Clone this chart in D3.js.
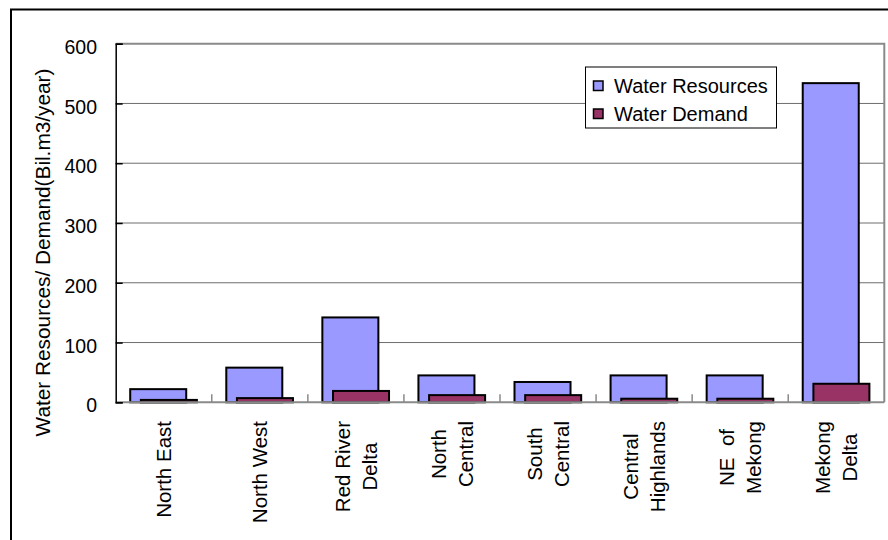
<!DOCTYPE html>
<html>
<head>
<meta charset="utf-8">
<script src="https://cdn.jsdelivr.net/npm/d3@7/dist/d3.min.js"></script>
<style>
  html, body { margin: 0; padding: 0; background: #ffffff; }
  svg { display: block; }
  text { font-family: "Liberation Sans", Arial, sans-serif; fill: #000; }
</style>
</head>
<body>
<svg id="chart" width="888" height="540"></svg>
<script>
// Regions (label lines) and their water balance in Bil.m3/year
const regions = [
  ["North East"],
  ["North West"],
  ["Red River", "Delta"],
  ["North", "Central"],
  ["South", "Central"],
  ["Central", "Highlands"],
  ["NE  of", "Mekong"],
  ["Mekong", "Delta"]
];
const waterResources = [22, 58, 142, 45, 34, 45, 45, 534];
const waterDemand    = [4, 7, 19, 12, 12, 6, 6, 31];
const yTicks = [0, 100, 200, 300, 400, 500, 600];
const seriesNames = ["Water Resources", "Water Demand"];
const seriesColors = ["#9999FF", "#993366"];

const svg = d3.select("#chart");

// outer chart frame (top and left edges visible)
svg.append("path")
  .attr("d", "M11,545 L11,9.5 L900,9.5")
  .attr("fill", "none").attr("stroke", "#000").attr("stroke-width", 2);

const plot = { left: 115.7, right: 884.3, top: 43.7, bottom: 402.3 };

const x = d3.scaleBand()
  .domain(d3.range(regions.length))
  .range([plot.left, plot.right])
  .paddingInner(0).paddingOuter(0);
const y = d3.scaleLinear().domain([0, 600]).range([plot.bottom, plot.top]);
const bw = x.bandwidth();
const barW = bw * 0.583;
const offRes = bw * 0.151;
const offDem = bw * 0.262;

// horizontal gridlines
svg.append("g")
  .selectAll("line")
  .data(yTicks.filter(d => d > 0 && d < 600))
  .join("line")
  .attr("x1", plot.left).attr("x2", plot.right)
  .attr("y1", d => y(d)).attr("y2", d => y(d))
  .attr("stroke", "#6e6e6e").attr("stroke-width", 1);

// plot area border (top and right)
svg.append("path")
  .attr("d", `M${plot.left},${y(600)} L${plot.right},${y(600)} L${plot.right},${plot.bottom}`)
  .attr("fill", "none").attr("stroke", "#8a8a8a").attr("stroke-width", 2);

// bars: resources first, demand drawn over them
svg.append("g")
  .selectAll("rect")
  .data(waterResources)
  .join("rect")
  .attr("x", (d, i) => x(i) + offRes)
  .attr("y", d => y(d))
  .attr("width", barW)
  .attr("height", d => y(0) - y(d))
  .attr("fill", seriesColors[0])
  .attr("stroke", "#000").attr("stroke-width", 2);

svg.append("g")
  .selectAll("rect")
  .data(waterDemand)
  .join("rect")
  .attr("x", (d, i) => x(i) + offDem)
  .attr("y", d => y(d))
  .attr("width", barW)
  .attr("height", d => y(0) - y(d))
  .attr("fill", seriesColors[1])
  .attr("stroke", "#000").attr("stroke-width", 2);

// x axis: baseline with category separators pointing up
const xAxis = svg.append("g");
xAxis.append("line")
  .attr("x1", plot.left).attr("x2", plot.right)
  .attr("y1", y(0)).attr("y2", y(0))
  .attr("stroke", "#8a8a8a").attr("stroke-width", 2);
xAxis.selectAll("line.sep")
  .data(d3.range(1, regions.length))
  .join("line")
  .attr("class", "sep")
  .attr("x1", i => x(i)).attr("x2", i => x(i))
  .attr("y1", y(0)).attr("y2", y(0) - 8)
  .attr("stroke", "#8a8a8a").attr("stroke-width", 1.5);

// y axis with inward ticks
const yAxis = svg.append("g").attr("transform", `translate(${plot.left},0)`)
  .call(d3.axisLeft(y).tickValues(yTicks).tickSize(-7).tickPadding(0).tickFormat(""));
yAxis.select(".domain").attr("stroke", "#000").attr("stroke-width", 1.5);
yAxis.selectAll(".tick line").attr("stroke", "#000").attr("stroke-width", 1.5);

// y tick labels
svg.append("g")
  .selectAll("text")
  .data(yTicks)
  .join("text")
  .attr("x", 97)
  .attr("y", d => y(d) + 3.6 + 18 * 0.36)
  .attr("text-anchor", "end")
  .style("font-size", "19.5px")
  .text(d => d);

// y axis title
svg.append("text")
  .attr("transform", "translate(50,252.5) rotate(-90)")
  .attr("text-anchor", "middle")
  .style("font-size", "20.8px")
  .text("Water Resources/ Demand(Bil.m3/year)");

// category labels, rotated, top-aligned under the axis
const fs = 20.5;
const lineGap = 26.7;
const labels = svg.append("g");
regions.forEach((lines, i) => {
  const g = labels.append("g")
    .attr("transform", `translate(${x(i) + bw / 2},421) rotate(-90)`);
  const texts = lines.map((s, j) =>
    g.append("text")
      .attr("y", (j - (lines.length - 1) / 2) * lineGap + fs * 0.36)
      .attr("text-anchor", "middle")
      .style("font-size", fs + "px")
      .style("white-space", "pre")
      .text(s));
  const maxLen = d3.max(texts, t => t.node().getComputedTextLength());
  texts.forEach(t => t.attr("x", -maxLen / 2));
});

// legend
const lg = svg.append("g");
lg.append("rect")
  .attr("x", 585.5).attr("y", 67).attr("width", 191).attr("height", 61)
  .attr("fill", "#fff").attr("stroke", "#000").attr("stroke-width", 1);
seriesNames.forEach((name, i) => {
  lg.append("rect")
    .attr("x", 593.5).attr("y", 81 + i * 28).attr("width", 9.5).attr("height", 9.5)
    .attr("fill", seriesColors[i]).attr("stroke", "#000").attr("stroke-width", 1.5);
  lg.append("text")
    .attr("x", 614).attr("y", 93 + i * 28)
    .style("font-size", "20px")
    .text(name);
});
</script>
</body>
</html>
